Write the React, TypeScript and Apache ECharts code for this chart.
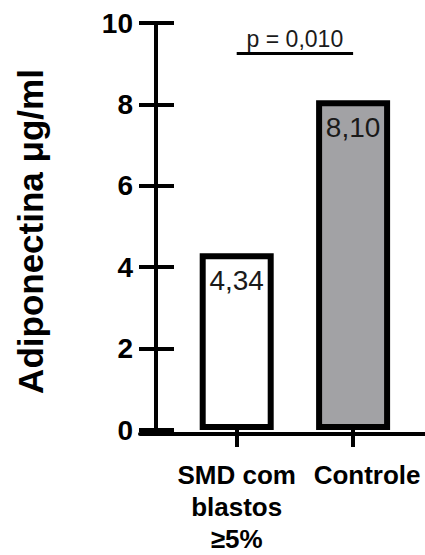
import React, { useEffect, useRef } from "react";
import * as echarts from "echarts";

// Groups and mean adiponectin (µg/ml)
const categories = ["SMD com\nblastos\n≥5%", "Controle"];
const adiponectin = [4.34, 8.1];
const barFills = ["#ffffff", "#a2a2a5"];

// Value axis
const yMin = 0;
const yMax = 10;
const yStep = 2;

// Significance bracket between the two groups
const pValueText = "p = 0,010";
const bracketLevel = 9.25;

const FONT = "Arial, 'Liberation Sans', Helvetica, sans-serif";
const INK = "#000000";

export default function App() {
  const ref = useRef<HTMLDivElement>(null);

  useEffect(() => {
    if (!ref.current) return;
    const chart = echarts.init(ref.current, undefined, { renderer: "svg" });

    const axisStroke = { color: INK, width: 4 };
    const plotTop = 23;
    const plotBottom = 121.5;

    chart.setOption({
      animation: false,
      backgroundColor: "#ffffff",
      grid: [
        { left: 178.5, right: 13.7, top: plotTop, bottom: plotBottom },
        // wider grid only used for the baseline that runs under both bars
        { left: 140, right: 0, top: plotTop, bottom: plotBottom },
      ],
      xAxis: [
        {
          type: "category",
          gridIndex: 0,
          data: categories,
          axisLine: { show: false },
          axisTick: {
            show: true,
            alignWithLabel: true,
            length: 17,
            lineStyle: axisStroke,
          },
          axisLabel: {
            interval: 0,
            margin: 29,
            color: INK,
            fontFamily: FONT,
            fontSize: 26,
            fontWeight: "bold",
            lineHeight: 32,
            formatter: (v: string) => (v === "Controle" ? `{shift|${v}}` : v),
            rich: {
              shift: {
                color: INK,
                fontFamily: FONT,
                fontSize: 26,
                fontWeight: "bold",
                lineHeight: 32,
                padding: [0, 0, 0, 28],
              },
            },
          },
          splitLine: { show: false },
        },
        {
          type: "value",
          gridIndex: 1,
          min: 0,
          max: 1,
          axisLine: { show: true, onZero: false, lineStyle: axisStroke },
          axisTick: { show: false },
          axisLabel: { show: false },
          splitLine: { show: false },
        },
      ],
      yAxis: [
        {
          type: "value",
          gridIndex: 0,
          position: "left",
          min: yMin,
          max: yMax,
          interval: yStep,
          offset: 22.5,
          name: "Adiponectina μg/ml",
          nameLocation: "middle",
          nameRotate: 90,
          nameGap: 108,
          nameTextStyle: {
            color: INK,
            fontFamily: FONT,
            fontSize: 35,
            fontWeight: "bold",
            padding: [0, 10, 0, 0],
          },
          axisLine: { show: true, lineStyle: axisStroke },
          axisTick: { show: true, length: 17, lineStyle: axisStroke },
          axisLabel: {
            margin: 23,
            color: INK,
            fontFamily: FONT,
            fontSize: 28,
            fontWeight: "bold",
          },
          splitLine: { show: false },
        },
        {
          // inner half of the crossing tick marks
          type: "value",
          gridIndex: 0,
          position: "left",
          min: yMin,
          max: yMax,
          interval: yStep,
          offset: 22.5,
          axisLine: { show: false },
          axisTick: { show: true, inside: true, length: 18, lineStyle: axisStroke },
          axisLabel: { show: false },
          splitLine: { show: false },
        },
        { type: "value", gridIndex: 1, min: yMin, max: yMax, show: false },
      ],
      series: [
        {
          type: "bar",
          xAxisIndex: 0,
          yAxisIndex: 0,
          barWidth: 74,
          silent: true,
          data: adiponectin.map((v, i) => ({
            value: v,
            itemStyle: { color: barFills[i] },
          })),
          itemStyle: { borderColor: INK, borderWidth: 6 },
          label: {
            show: true,
            position: "insideTop",
            distance: 13,
            color: "#1a1a1a",
            fontFamily: FONT,
            fontSize: 28,
            formatter: (p: any) => Number(p.value).toFixed(2).replace(".", ","),
          },
          markLine: {
            silent: true,
            symbol: "none",
            lineStyle: { color: INK, width: 3, type: "solid" },
            label: {
              show: true,
              position: "middle",
              distance: 3,
              color: "#1a1a1a",
              fontFamily: FONT,
              fontSize: 23,
              formatter: pValueText,
            },
            data: [
              [
                { coord: [categories[0], bracketLevel] },
                { coord: [categories[1], bracketLevel] },
              ],
            ],
          },
        },
      ],
    });

    return () => chart.dispose();
  }, []);

  return (
    <div
      ref={ref}
      style={{
        position: "fixed",
        left: 0,
        top: 0,
        width: 425,
        height: 555,
        background: "#ffffff",
      }}
    />
  );
}
